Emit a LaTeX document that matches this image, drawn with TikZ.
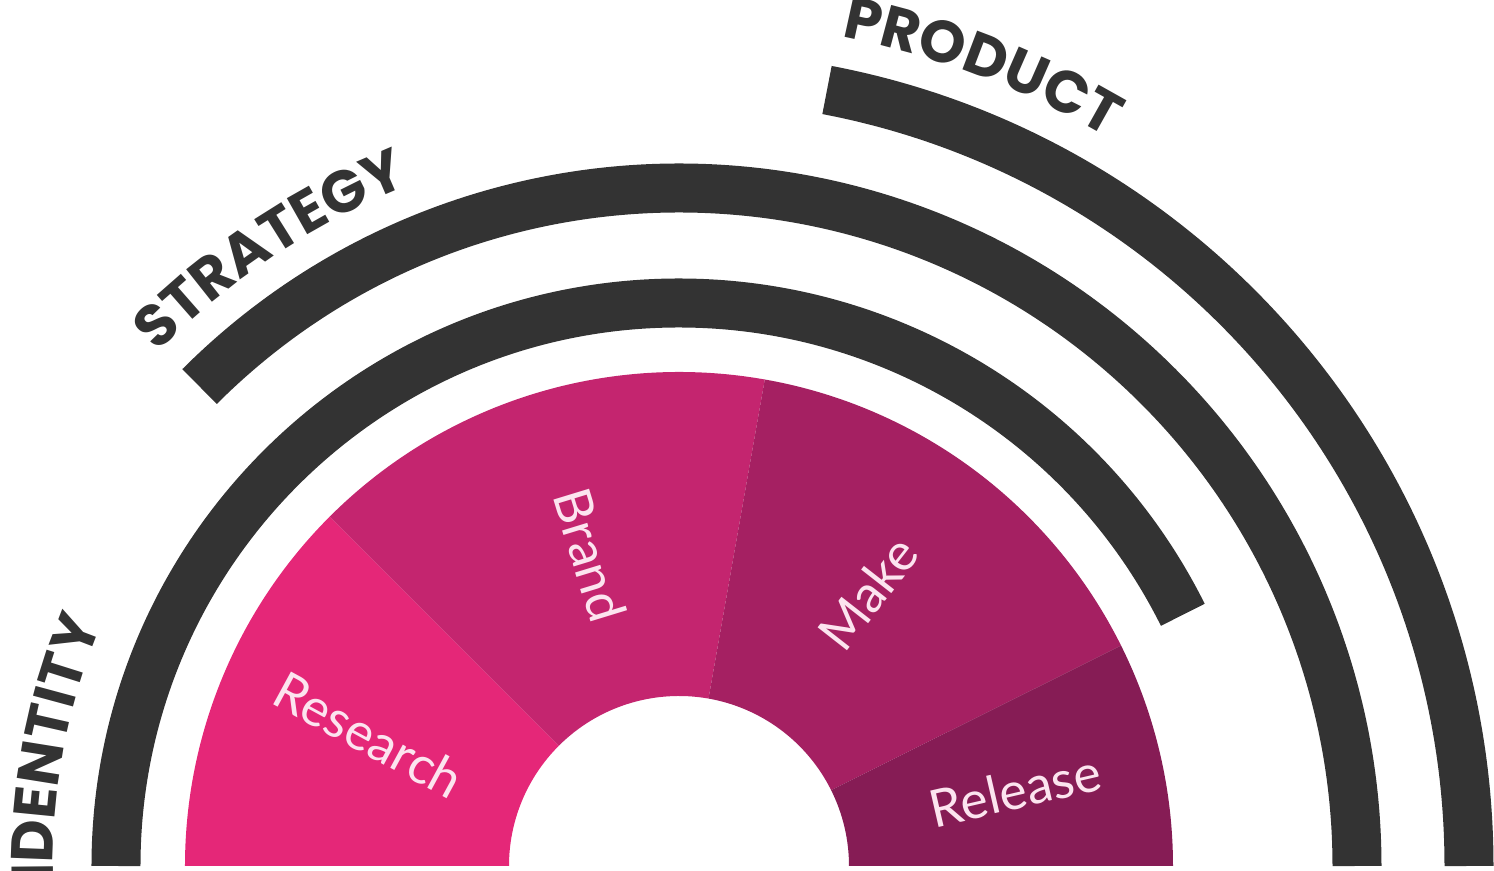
\documentclass[tikz,border=0pt]{standalone}
\usepackage{fontspec}
\setmainfont{Lato}
\newfontfamily\labfont{Poppins}
\usetikzlibrary{decorations.text}
\definecolor{dark}{HTML}{333333}
\definecolor{cRes}{HTML}{E52778}
\definecolor{cBra}{HTML}{C4256F}
\definecolor{cMak}{HTML}{A52062}
\definecolor{cRel}{HTML}{861C55}
\definecolor{txt}{HTML}{FCE4EF}
\begin{document}
\begin{tikzpicture}[x=0.5pt,y=0.5pt,
  band/.style={draw=dark, line width=24.5pt, line cap=butt},
  seglabel/.style={text=txt, font=\fontsize{26}{30}\selectfont, inner sep=0pt},
  arclabel/.style={decorate, decoration={text along path, text align=center, text color=dark}}]
\useasboundingbox (-679,-5) rectangle (815,866);
% coloured ring
\fill[cRes] (180:170) arc[start angle=180,end angle=135,radius=170] -- (135:494) arc[start angle=135,end angle=180,radius=494] -- cycle;
\fill[cBra] (135:170) arc[start angle=135,end angle=80,radius=170] -- (80:494) arc[start angle=80,end angle=135,radius=494] -- cycle;
\fill[cMak] (80:170) arc[start angle=80,end angle=26.5,radius=170] -- (26.5:494) arc[start angle=26.5,end angle=80,radius=494] -- cycle;
\fill[cRel] (26.5:170) arc[start angle=26.5,end angle=0,radius=170] -- (0:494) arc[start angle=0,end angle=26.5,radius=494] -- cycle;
% bands
\draw[band] (180:563) arc[start angle=180,end angle=26.5,radius=563];
\draw[band] (135:678) arc[start angle=135,end angle=0,radius=678];
\draw[band] (79.2:790) arc[start angle=79.2,end angle=0,radius=790];
% band labels
\path[arclabel, decoration={text={|\labfont\bfseries\fontsize{29.5}{30}\selectfont|IDENTITY}}]
  (182.2:626) arc[start angle=182.2,end angle=156.4,radius=626];
\path[arclabel, decoration={text={|\labfont\bfseries\fontsize{29.5}{30}\selectfont|STRATEGY}}]
  (134.8:732) arc[start angle=134.8,end angle=112.3,radius=732];
\path[arclabel, decoration={text={|\labfont\bfseries\fontsize{29.5}{30}\selectfont|PRODUCT}}]
  (78.8:845) arc[start angle=78.8,end angle=59.6,radius=845];
% segment labels
\node[seglabel, rotate=-28.5] (research) at (-310,131) {Research};
\node[seglabel, rotate=-73] (brand) at (-89,311) {Brand};
\node[seglabel, rotate=52] (make) at (189,273) {Make};
\node[seglabel, rotate=13] (release) at (336,76) {Release};
\end{tikzpicture}
\end{document}
